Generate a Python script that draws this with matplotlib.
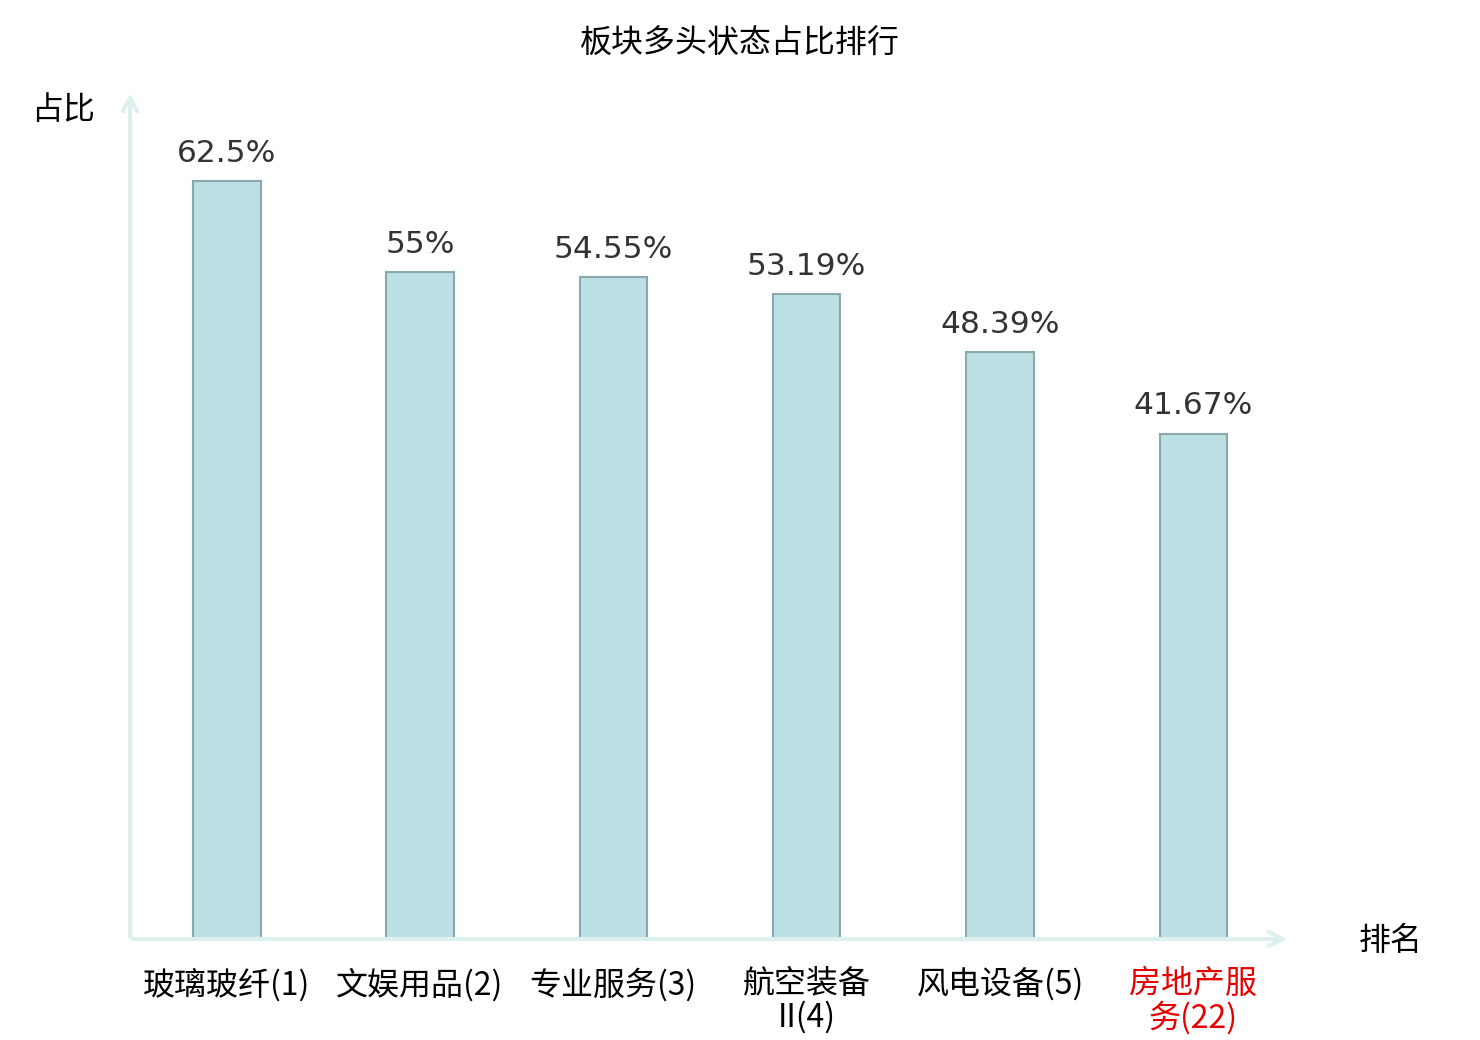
import matplotlib
matplotlib.use("Agg")
import matplotlib.pyplot as plt

plt.rcParams['font.family'] = ['Noto Sans CJK SC', 'DejaVu Sans']

# data
categories = ['玻璃玻纤(1)', '文娱用品(2)', '专业服务(3)', '航空装备\nII(4)', '风电设备(5)', '房地产服\n务(22)']
values = [62.5, 55, 54.55, 53.19, 48.39, 41.67]
value_labels = ['62.5%', '55%', '54.55%', '53.19%', '48.39%', '41.67%']
label_colors = ['black', 'black', 'black', 'black', 'black', '#e60000']

fig = plt.figure(figsize=(14.8, 10.4), dpi=100)
ax = fig.add_axes([130/1480, 101/1040, 1160/1480, 849/1040])

x = range(len(categories))
ax.bar(x, values, width=0.35, color='#bce0e3', edgecolor='#8aa9aa', linewidth=1.5, zorder=3)

for i, v in enumerate(values):
    ax.text(i, v + 1.1, value_labels[i], ha='center', va='bottom', fontsize=22.5,
            color='#333333', family='DejaVu Sans')

ax.set_xlim(-0.5, 5.5)
ax.set_ylim(0, 70)
for s in ax.spines.values():
    s.set_visible(False)
ax.set_xticks([])
ax.set_yticks([])

# axis arrows
axis_col = '#dcf0ee'
arrow = dict(arrowstyle='->,head_length=1.0,head_width=0.5', color=axis_col, lw=3)
ax.annotate('', xy=(1.0, 0), xytext=(0, 0), xycoords='axes fraction',
            arrowprops=arrow, annotation_clip=False)
ax.annotate('', xy=(0, 1.0), xytext=(0, 0), xycoords='axes fraction',
            arrowprops=arrow, annotation_clip=False)

# category labels
for i, c in enumerate(categories):
    ax.text(i, -2.4, c, ha='center', va='top', fontsize=23, color=label_colors[i],
            linespacing=1.02)

fig.text(63/1480, 1 - 110/1040, '占比', ha='center', va='center', fontsize=23)
fig.text(1391/1480, 1 - 941/1040, '排名', ha='center', va='center', fontsize=23)
fig.text(740/1480, 1 - 44/1040, '板块多头状态占比排行', ha='center', va='center', fontsize=23)

fig.savefig('out.png', dpi=100)
